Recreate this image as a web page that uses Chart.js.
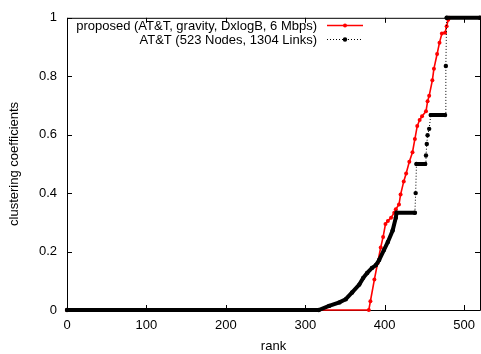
<!doctype html>
<html lang="en">
<head>
<meta charset="utf-8">
<title>clustering coefficients by rank</title>
<style>
  * { margin: 0; padding: 0; }
  body { background: #fff; overflow: hidden; }
  .chartBox { width: 484px; height: 354px; }
</style>
</head>
<body>
<div class="chartBox"><canvas id="myChart"></canvas></div>
<script src="https://cdn.jsdelivr.net/npm/chart.js/dist/chart.umd.min.js"></script>
<script>
// setup
const xTicks = [0, 100, 200, 300, 400, 500];
const yTicks = [0, 0.2, 0.4, 0.6, 0.8, 1];

const labelProposed = 'proposed (AT&T, gravity, DxlogB, 6 Mbps)';
const labelAtt = 'AT&T (523 Nodes, 1304 Links)';

// proposed topology (red)
const proposedRank = [0, 380, 382, 387, 391, 395, 398, 401, 404, 408, 412, 414, 418, 420, 424, 427, 431, 435, 438, 441, 444, 447, 452, 454, 456, 460, 462, 466, 469, 472, 476, 478, 480, 481, 520];
const proposedCoef = [0, 0, 0.03, 0.104, 0.16, 0.214, 0.25, 0.294, 0.305, 0.316, 0.333, 0.345, 0.361, 0.395, 0.44, 0.467, 0.507, 0.54, 0.585, 0.63, 0.65, 0.663, 0.68, 0.714, 0.733, 0.786, 0.826, 0.876, 0.915, 0.946, 0.949, 0.971, 0.993, 1, 1];

// AT&T measured (black)
const attRank = [0, 317, 330, 343, 351, 359, 368, 373, 378, 384, 389, 393, 399, 404, 410, 414, 415, 438, 439, 440, 451, 452, 453, 454, 456, 458, 476, 477, 478, 520];
const attCoef = [0, 0, 0.014, 0.026, 0.037, 0.06, 0.087, 0.11, 0.127, 0.144, 0.154, 0.171, 0.205, 0.233, 0.272, 0.316, 0.333, 0.333, 0.4, 0.5, 0.5, 0.529, 0.568, 0.598, 0.62, 0.667, 0.667, 0.835, 1, 1];

const toPoints = (xs, ys) => xs.map((v, i) => ({ x: v, y: ys[i] }));

// a jump between neighbouring ranks is drawn dotted, dense runs look solid
const isJump = ctx => (ctx.p1.parsed.x - ctx.p0.parsed.x) <= 2 && Math.abs(ctx.p1.parsed.y - ctx.p0.parsed.y) > 0.02;

const data = {
  datasets: [{
    label: labelAtt,
    data: toPoints(attRank, attCoef),
    borderColor: '#000',
    backgroundColor: '#000',
    borderWidth: 4,
    borderCapStyle: 'round',
    pointRadius: 2.2,
    pointBorderWidth: 0,
    pointBackgroundColor: '#000',
    clip: false,
    order: 0,
    segment: {
      borderWidth: ctx => isJump(ctx) ? 1 : 4,
      borderDash: ctx => isJump(ctx) ? [1, 2] : [],
      borderCapStyle: ctx => isJump(ctx) ? 'butt' : 'round'
    }
  }, {
    label: labelProposed,
    data: toPoints(proposedRank, proposedCoef),
    borderColor: '#ff0000',
    backgroundColor: '#ff0000',
    borderWidth: 1.6,
    pointRadius: 2,
    pointBorderWidth: 0,
    pointBackgroundColor: '#ff0000',
    clip: false,
    order: 1
  }]
};

// gnuplot-like frame, inward ticks and key
const gnuplotFrame = {
  id: 'gnuplotFrame',
  beforeDatasetsDraw(chart) {
    const { ctx, chartArea: { top, bottom, left, right }, scales: { x, y } } = chart;
    ctx.save();
    ctx.strokeStyle = '#000';
    ctx.lineWidth = 1;
    ctx.beginPath();
    xTicks.forEach(v => {
      const px = Math.round(x.getPixelForValue(v)) + 0.5;
      ctx.moveTo(px, bottom); ctx.lineTo(px, bottom - 5);
      ctx.moveTo(px, top); ctx.lineTo(px, top + 5);
    });
    yTicks.forEach(v => {
      const py = Math.round(y.getPixelForValue(v)) + 0.5;
      ctx.moveTo(left, py); ctx.lineTo(left + 5, py);
      ctx.moveTo(right, py); ctx.lineTo(right - 5, py);
    });
    ctx.rect(left + 0.5, top + 0.5, right - left, bottom - top);
    ctx.stroke();
    ctx.restore();
  },
  afterDraw(chart) {
    const { ctx } = chart;
    ctx.save();
    ctx.font = '13px "Liberation Sans", Arial, sans-serif';
    ctx.fillStyle = '#000';
    ctx.textAlign = 'right';
    ctx.textBaseline = 'middle';
    ctx.fillText(labelProposed, 317, 26);
    ctx.fillText(labelAtt, 317, 40);

    ctx.strokeStyle = '#ff0000';
    ctx.lineWidth = 1.5;
    ctx.beginPath();
    ctx.moveTo(327, 25.5); ctx.lineTo(363, 25.5);
    ctx.stroke();
    ctx.fillStyle = '#ff0000';
    ctx.beginPath();
    ctx.arc(345, 25.5, 2, 0, 2 * Math.PI);
    ctx.fill();

    ctx.strokeStyle = '#000';
    ctx.lineWidth = 1;
    ctx.setLineDash([1, 2]);
    ctx.beginPath();
    ctx.moveTo(327, 39.5); ctx.lineTo(363, 39.5);
    ctx.stroke();
    ctx.setLineDash([]);
    ctx.fillStyle = '#000';
    ctx.beginPath();
    ctx.arc(345, 39.5, 2.2, 0, 2 * Math.PI);
    ctx.fill();
    ctx.restore();
  }
};

Chart.defaults.font.family = '"Liberation Sans", Arial, sans-serif';
Chart.defaults.font.size = 13;
Chart.defaults.color = '#000';

// config
const config = {
  type: 'line',
  data,
  options: {
    responsive: true,
    maintainAspectRatio: false,
    animation: false,
    layout: { padding: { top: 13, right: 3, left: 0, bottom: 0 } },
    scales: {
      x: {
        type: 'linear',
        min: 0,
        max: 520,
        grid: { display: false, drawTicks: false },
        border: { display: false },
        ticks: { padding: 8, maxRotation: 0 },
        afterBuildTicks: scale => { scale.ticks = xTicks.map(v => ({ value: v })); },
        afterFit: scale => { scale.height = 44; },
        title: { display: true, text: 'rank', padding: { top: 2, bottom: 0 } }
      },
      y: {
        type: 'linear',
        min: 0,
        max: 1,
        grid: { display: false, drawTicks: false },
        border: { display: false },
        ticks: { padding: 10, callback: v => String(v) },
        afterBuildTicks: scale => { scale.ticks = yTicks.map(v => ({ value: v })); },
        afterFit: scale => { scale.width = 67; },
        title: { display: true, text: 'clustering coefficients', padding: { top: 7, bottom: 0 } }
      }
    },
    plugins: {
      legend: { display: false },
      tooltip: { enabled: false }
    }
  },
  plugins: [gnuplotFrame]
};

// render init block
const myChart = new Chart(document.getElementById('myChart'), config);
</script>
</body>
</html>
